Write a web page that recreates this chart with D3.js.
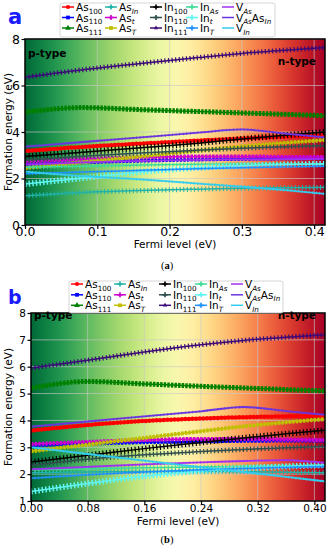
<!DOCTYPE html>
<html>
<head>
<meta charset="utf-8">
<script src="https://cdn.jsdelivr.net/npm/d3@7"></script>
<style>
  body { margin: 0; background: #fff; }
  svg { font-family: "DejaVu Sans", sans-serif; }
</style>
</head>
<body>
<div id="chart"></div>
<script>
// Fermi level positions (eV) the values were read at
const fermi = [0, 0.08, 0.16, 0.24, 0.30, 0.36, 0.415];

const seriesNames = [
  "As_{100}", "As_{110}", "As_{111}", "As_{In}", "As_{t}", "As_{T}",
  "In_{100}", "In_{110}", "In_{111}", "In_{As}", "In_{t}", "In_{T}",
  "V_{As}", "V_{As}As_{In}", "V_{In}"
];

// formation energies (eV), panel (a)
const energiesA = [
  [3.18, 3.36, 3.50, 3.63, 3.72, 3.80, 3.86],
  [2.62, 2.70, 2.77, 2.82, 2.85, 2.87, 2.88],
  [4.85, 5.05, 4.96, 4.88, 4.82, 4.76, 4.70],
  [1.26, 1.40, 1.48, 1.54, 1.58, 1.60, 1.62],
  [2.72, 2.83, 2.91, 2.95, 2.95, 2.93, 2.92],
  [2.45, 2.70, 2.95, 3.20, 3.38, 3.53, 3.66],
  [2.95, 3.13, 3.32, 3.52, 3.70, 3.86, 4.00],
  [2.78, 2.96, 3.10, 3.22, 3.30, 3.37, 3.42],
  [6.35, 6.68, 6.95, 7.20, 7.38, 7.52, 7.63],
  [2.48, 2.53, 2.58, 2.61, 2.62, 2.62, 2.60],
  [1.76, 2.02, 2.28, 2.46, 2.55, 2.60, 2.63],
  [2.20, 2.28, 2.35, 2.42, 2.46, 2.50, 2.53],
  [2.60, 2.69, 2.76, 2.80, 2.82, 2.83, 2.84],
  [3.37, 3.57, 3.77, 3.97, 4.11, 3.93, 3.77],
  [2.30, 2.10, 1.96, 1.78, 1.65, 1.50, 1.34]
];

// formation energies (eV), panel (b)
const energiesB = [
  [3.62, 3.83, 3.98, 4.07, 4.12, 4.15, 4.17],
  [3.08, 3.14, 3.19, 3.22, 3.24, 3.25, 3.25],
  [5.20, 5.45, 5.36, 5.27, 5.21, 5.15, 5.10],
  [2.05, 2.08, 2.10, 2.10, 2.09, 2.07, 2.05],
  [3.12, 3.20, 3.27, 3.31, 3.31, 3.29, 3.27],
  [2.85, 3.10, 3.35, 3.60, 3.78, 3.93, 4.05],
  [2.45, 2.70, 2.95, 3.18, 3.35, 3.50, 3.63],
  [2.32, 2.55, 2.72, 2.84, 2.92, 2.98, 3.03],
  [5.95, 6.24, 6.55, 6.82, 6.98, 7.10, 7.19],
  [2.15, 2.20, 2.24, 2.27, 2.29, 2.30, 2.30],
  [1.35, 1.65, 1.92, 2.12, 2.22, 2.29, 2.34],
  [1.85, 1.98, 2.08, 2.16, 2.21, 2.25, 2.28],
  [2.18, 2.27, 2.36, 2.44, 2.49, 2.52, 2.42],
  [3.77, 3.96, 4.15, 4.34, 4.50, 4.35, 4.21],
  [3.00, 2.75, 2.50, 2.26, 2.08, 1.90, 1.73]
];

const xTicksA = [0, 0.1, 0.2, 0.3, 0.4];
const yTicksA = [0, 2, 4, 6, 8];
const xTicksB = [0, 0.08, 0.16, 0.24, 0.32, 0.40];
const yTicksB = [1, 2, 3, 4, 5, 6, 7, 8];

const colors = ["red", "blue", "green", "#20b2aa", "#cc00cc", "#bfbf00",
  "black", "#2f4f4f", "#3b0a78", "#3ddc97", "#5ff5f5", "#1e90ff",
  "#a030f0", "#6a35e0", "#33ccf0"];

// dense markers drawn as a dashed wide stroke on top of the line
const markerStyle = [
  { w: 4.5, dash: "0,3.6", cap: "round" },
  { w: 4, dash: "2.5,1.1", cap: "butt" },
  { w: 5, dash: "2.5,1.1", cap: "butt" },
  { w: 5, dash: "1,2.6", cap: "butt" },
  { w: 4, dash: "2.5,1.1", cap: "butt" },
  { w: 4, dash: "2.5,1.1", cap: "butt" },
  { w: 6, dash: "1.2,2.4", cap: "butt" },
  { w: 5, dash: "1.2,2.4", cap: "butt" },
  { w: 5, dash: "1.2,2.4", cap: "butt" },
  { w: 4, dash: "1,2.6", cap: "butt" },
  { w: 6, dash: "1.5,2.1", cap: "butt" },
  { w: 3, dash: "0.8,2.8", cap: "butt" },
  { w: 2.6, dash: "0.6,3", cap: "butt" },
  { w: 2.6, dash: "0.6,3", cap: "butt" },
  { w: 3, dash: "0.6,3", cap: "butt" }
];
const legendSymbols = [d3.symbolCircle, d3.symbolSquare, d3.symbolTriangle, d3.symbolCross,
  d3.symbolCross, d3.symbolSquare, d3.symbolCross, d3.symbolCross, d3.symbolTriangle2,
  d3.symbolCross, d3.symbolCross, d3.symbolCross, null, null, null];

const W = 331, H = 550;
const svg = d3.select("#chart").append("svg")
  .attr("width", W).attr("height", H)
  .attr("viewBox", `0 0 ${W} ${H}`);
const defs = svg.append("defs");

// writes "As_{100}" style labels as tspans with subscripts
const addLabel = (text, str, fs, subFs) => {
  const parts = str.split(/_\{([^}]*)\}/);
  let shifted = false;
  parts.forEach((s, i) => {
    if (!s) return;
    const sub = i % 2 === 1;
    const t = text.append("tspan").text(s).attr("font-size", sub ? subFs : fs);
    if (sub && !shifted) { t.attr("dy", 2.5); shifted = true; }
    if (!sub && shifted) { t.attr("dy", -2.5); shifted = false; }
    if (sub && isNaN(+s)) t.attr("font-style", "italic");
  });
};

const drawPanel = (p) => {
  const x = d3.scaleLinear().domain([0, 0.415]).range([p.left, p.right]);
  const y = d3.scaleLinear().domain(p.yDomain).range([p.bottom, p.top]);

  // RdYlGn reversed background
  const grad = defs.append("linearGradient").attr("id", "bg" + p.id);
  d3.range(0, 1.0001, 0.05).forEach((t) => {
    grad.append("stop").attr("offset", t).attr("stop-color", d3.interpolateRdYlGn(1 - t));
  });
  defs.append("clipPath").attr("id", "clip" + p.id)
    .append("rect")
    .attr("x", p.left).attr("y", p.top)
    .attr("width", p.right - p.left).attr("height", p.bottom - p.top);

  svg.append("rect")
    .attr("x", p.left).attr("y", p.top)
    .attr("width", p.right - p.left).attr("height", p.bottom - p.top)
    .attr("fill", `url(#bg${p.id})`);

  // grid
  const grid = svg.append("g").attr("stroke", "#c8c8c8").attr("stroke-opacity", 0.8).attr("stroke-width", 0.8);
  grid.selectAll(".gx").data(p.xTicks.filter((d) => d > 0)).join("line")
    .attr("x1", (d) => x(d)).attr("x2", (d) => x(d))
    .attr("y1", p.top).attr("y2", p.bottom);
  grid.selectAll(".gy").data(p.yTicks).join("line")
    .attr("y1", (d) => y(d)).attr("y2", (d) => y(d))
    .attr("x1", p.left).attr("x2", p.right);

  // series
  const line = d3.line()
    .x((d, i) => x(fermi[i]))
    .y((d) => y(d))
    .curve(d3.curveMonotoneX);
  const plot = svg.append("g").attr("clip-path", `url(#clip${p.id})`);
  p.values.forEach((vals, k) => {
    const g = plot.append("g");
    g.append("path").attr("d", line(vals))
      .attr("fill", "none").attr("stroke", colors[k])
      .attr("stroke-width", k >= 12 ? 1.8 : 1.5);
    g.append("path").attr("d", line(vals))
      .attr("fill", "none").attr("stroke", colors[k])
      .attr("stroke-width", markerStyle[k].w)
      .attr("stroke-dasharray", markerStyle[k].dash)
      .attr("stroke-linecap", markerStyle[k].cap);
  });

  // frame
  svg.append("rect")
    .attr("x", p.left).attr("y", p.top)
    .attr("width", p.right - p.left).attr("height", p.bottom - p.top)
    .attr("fill", "none").attr("stroke", "black").attr("stroke-width", 1.5);

  // axes
  const xAxis = svg.append("g")
    .attr("transform", `translate(0,${p.bottom})`)
    .call(d3.axisBottom(x).tickValues(p.xTicks).tickFormat(d3.format(p.xFmt)).tickSize(4).tickPadding(0));
  xAxis.select(".domain").remove();
  xAxis.selectAll("line").attr("stroke-width", 1.2);
  xAxis.selectAll("text").attr("font-size", p.tickFs).attr("font-family", "DejaVu Sans").attr("fill", "black")
    .attr("y", p.xTickY);

  const yAxis = svg.append("g")
    .attr("transform", `translate(${p.left},0)`)
    .call(d3.axisLeft(y).tickValues(p.yTicks).tickFormat(d3.format("d")).tickSize(3.5).tickPadding(1.5));
  yAxis.select(".domain").remove();
  yAxis.selectAll("line").attr("stroke-width", 1.2);
  yAxis.selectAll("text").attr("font-size", p.tickFs).attr("font-family", "DejaVu Sans").attr("fill", "black");

  svg.append("text")
    .attr("x", (p.left + p.right) / 2).attr("y", p.xLabelY)
    .attr("text-anchor", "middle").attr("font-size", 10.5)
    .text("Fermi level (eV)");
  svg.append("text")
    .attr("transform", `translate(11.5,${(p.top + p.bottom) / 2}) rotate(-90)`)
    .attr("text-anchor", "middle").attr("font-size", 10.5)
    .text("Formation energy (eV)");

  svg.append("text").attr("x", p.left + 3).attr("y", p.typeY)
    .attr("font-size", 10.5).attr("font-weight", "bold").text("p-type");
  svg.append("text").attr("x", 316).attr("y", p.typeY + p.nShift)
    .attr("text-anchor", "end")
    .attr("font-size", 10.5).attr("font-weight", "bold").text("n-type");

  // panel letter and caption
  svg.append("text").attr("x", 8).attr("y", p.letterY)
    .attr("font-size", p.letterFs).attr("font-weight", "bold").attr("fill", "#1a1aff")
    .text(p.id);
  svg.append("text").attr("x", 167).attr("y", p.captionY)
    .attr("text-anchor", "middle").attr("font-family", "Liberation Serif, serif")
    .attr("font-size", 10.5)
    .text("(").append("tspan").attr("font-weight", "bold").text(p.id)
    .select(function () { return this.parentNode; }).append("tspan").text(")");

  // legend, 5 columns filled top-down
  const lg = svg.append("g");
  lg.append("rect")
    .attr("x", p.legX).attr("y", p.legY)
    .attr("width", p.legW).attr("height", p.legH).attr("rx", 2)
    .attr("fill", "white").attr("fill-opacity", 0.9)
    .attr("stroke", "#cccccc").attr("stroke-width", 0.8);
  const colX = [2, 45, 90, 126, 162];
  seriesNames.forEach((name, k) => {
    const cx = p.legX + colX[Math.floor(k / 3)];
    const by = p.legRows[k % 3];
    const cy = by - 4;
    lg.append("line").attr("x1", cx).attr("x2", cx + 12)
      .attr("y1", cy).attr("y2", cy)
      .attr("stroke", colors[k]).attr("stroke-width", 1.5);
    if (legendSymbols[k]) {
      lg.append("path")
        .attr("d", d3.symbol().type(legendSymbols[k]).size(14)())
        .attr("transform", `translate(${cx + 6},${cy})`)
        .attr("fill", colors[k]);
    }
    const t = lg.append("text").attr("x", cx + 14).attr("y", by);
    addLabel(t, name, 10.5, 7.2);
  });
};

drawPanel({
  id: "a", values: energiesA,
  left: 25, right: 325, top: 39, bottom: 225,
  yDomain: [0, 8], xTicks: xTicksA, yTicks: yTicksA, xFmt: ".1f",
  tickFs: 12.5, xTickY: 2, xLabelY: 248,
  typeY: 57, nShift: 8,
  letterY: 24, letterFs: 21, captionY: 269,
  legX: 60, legY: 3, legW: 215, legH: 34, legRows: [11, 21.5, 32]
});

drawPanel({
  id: "b", values: energiesB,
  left: 31, right: 325, top: 313, bottom: 501,
  yDomain: [1, 8], xTicks: xTicksB, yTicks: yTicksB, xFmt: ".2f",
  tickFs: 10.5, xTickY: 3.5, xLabelY: 524.5,
  typeY: 319, nShift: 0,
  letterY: 304, letterFs: 19, captionY: 543,
  legX: 69, legY: 281, legW: 214, legH: 32, legRows: [288, 298.8, 309.3]
});
</script>
</body>
</html>
